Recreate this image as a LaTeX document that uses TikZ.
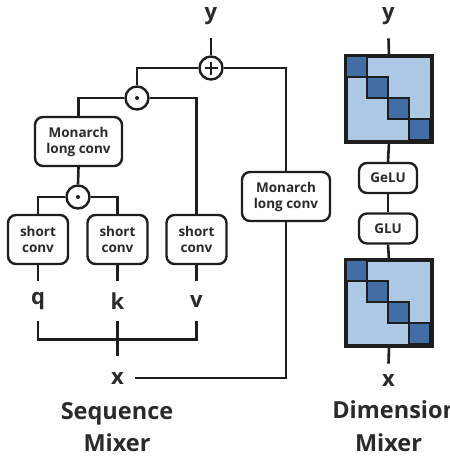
\documentclass[tikz,border=0pt]{standalone}
\usepackage{fontspec}
\setmainfont{Open Sans}
\usetikzlibrary{calc}
\definecolor{ink}{HTML}{1E1E1E}
\definecolor{txt}{HTML}{2A2A2A}
\definecolor{lightblue}{HTML}{ACC8E4}
\definecolor{darkblue}{HTML}{426EA5}
\begin{document}
\begin{tikzpicture}[x=1pt,y=-1pt,
  line width=2.6pt, draw=ink,
  conn/.style={draw=ink, line width=2.6pt},
  opbox/.style={draw=ink, line width=2.4pt, rounded corners=8pt, fill=white, inner sep=0pt, align=center, font=\fontsize{13.5}{16}\selectfont\bfseries, text=txt},
  opcirc/.style={draw=ink, line width=2.4pt, circle, minimum size=23pt, inner sep=0pt, fill=white},
  varlbl/.style={inner sep=0pt, font=\fontsize{22}{22}\selectfont\bfseries, text=txt},
  titlelbl/.style={inner sep=0pt, font=\fontsize{23.5}{28}\selectfont\bfseries, text=txt},
  mat/.style={draw=ink, line width=2.6pt, fill=lightblue, minimum size=84pt, inner sep=0pt},
  blk/.style={draw=ink, line width=2.4pt, fill=darkblue}
]
\useasboundingbox (0,0) rectangle (450,456);

% ---------- Sequence mixer ----------
\node[varlbl, minimum height=42pt] (yL) at (211,16) {y};
\node[opcirc] (plus) at (211,68) {};
\draw[line width=2.2pt] ($(plus.center)+(-6.5,0)$) -- ($(plus.center)+(6.5,0)$);
\draw[line width=2.2pt] ($(plus.center)+(0,-6.5)$) -- ($(plus.center)+(0,6.5)$);
\node[opcirc] (dot1) at (137,98) {};
\fill[ink] (dot1.center) circle (2pt);
\node[opbox, minimum width=87pt, minimum height=49pt] (mon1) at (78.5,141.5) {Monarch\\long conv};
\node[opcirc] (dot2) at (78,197) {};
\fill[ink] (dot2.center) circle (2pt);
\node[opbox, minimum width=60pt, minimum height=49pt] (sq) at (38,239.5) {short\\conv};
\node[opbox, minimum width=60pt, minimum height=49pt] (sk) at (117.5,239.5) {short\\conv};
\node[opbox, minimum width=60pt, minimum height=49pt] (sv) at (196.5,239.5) {short\\conv};
\node[varlbl, minimum height=38pt] (q) at (38,301) {q};
\node[varlbl, minimum height=38pt] (k) at (117.5,301) {k};
\node[varlbl, minimum height=38pt] (v) at (196.5,301) {v};
\node[varlbl, minimum height=42pt, minimum width=32pt] (x) at (117.5,378) {x};
\node[opbox, minimum width=88pt, minimum height=49pt] (mon2) at (286,196.5) {Monarch\\long conv};
\node[titlelbl, anchor=base] (seq) at (117,419) {Sequence};
\node[titlelbl, anchor=base] (mixL) at (117,451) {Mixer};

\draw[conn] (yL.south) -- (plus.north);
\draw[conn] (plus.west) -| (dot1.north);
\draw[conn] (plus.east) -| (mon2.north);
\draw[conn] (dot1.west) -| (mon1.north);
\draw[conn] (dot1.east) -| (sv.north);
\draw[conn] (mon1.south) -- (dot2.north);
\draw[conn] (dot2.west) -| (sq.north);
\draw[conn] (dot2.east) -| (sk.north);
\draw[conn] (sq.south) -- (q.north);
\draw[conn] (sk.south) -- (k.north);
\draw[conn] (sv.south) -- (v.north);
\draw[conn] (q.south) -- ++(0,18) -| (v.south);
\draw[conn] (k.south) -- (x.north);
\draw[conn] (x.east) -| (mon2.south);

% ---------- Dimension mixer ----------
\node[varlbl, minimum height=42pt] (yR) at (388.5,16) {y};
\node[mat] (m1) at (389,99) {};
\node[opbox, minimum width=58pt, minimum height=30pt] (gelu) at (388,178) {GeLU};
\node[opbox, minimum width=58pt, minimum height=30pt] (glu) at (388,228.5) {GLU};
\node[mat] (m2) at (389,303) {};
\node[varlbl, minimum height=30pt] (xR) at (388.5,380) {x};
\node[titlelbl, anchor=base west] (dim) at (331,418) {Dimension};
\node[titlelbl, anchor=base] (mixR) at (388.5,451) {Mixer};

\foreach \m in {m1,m2}{
  \foreach \i in {0,1,2,3}{
    \draw[blk] ($(\m.north west)+(21*\i,21*\i)$) rectangle ++(21,21);
  }
  \draw[draw=ink, line width=2.6pt] (\m.north west) rectangle (\m.south east);
}

\draw[conn] (yR.south) -- (m1.north);
\draw[conn] (m1.south) -- (gelu.north);
\draw[conn] (gelu.south) -- (glu.north);
\draw[conn] (glu.south) -- (m2.north);
\draw[conn] (m2.south) -- (xR.north);
\end{tikzpicture}
\end{document}
